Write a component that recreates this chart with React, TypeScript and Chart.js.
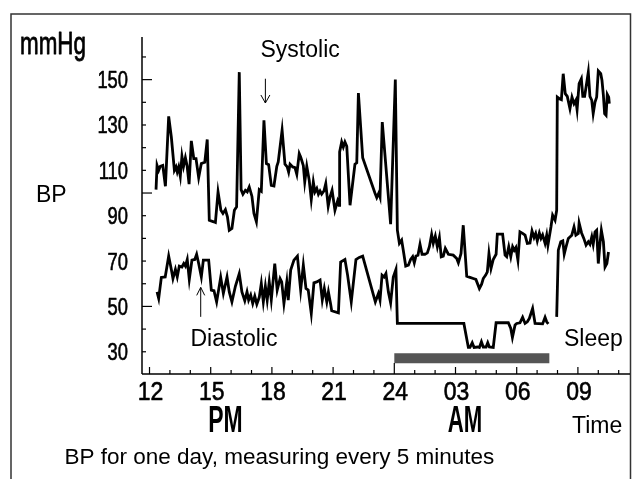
import React, { useEffect, useRef } from 'react';
import { Chart, registerables } from 'chart.js';

Chart.register(...registerables);

// ---- Data (time in hours since midnight of day 1; 24+ = next morning) ----
const sysTimes = [
  12.32, 12.37, 12.45, 12.53, 12.65, 12.78, 12.94, 13.07, 13.22, 13.30, 13.36, 13.43, 13.51, 13.59, 13.67, 13.76, 13.84, 13.94, 14.05, 14.17,
  14.28, 14.41, 14.54, 14.71, 14.83, 14.93, 15.15, 15.23, 15.36, 15.5, 15.6, 15.72, 15.82, 15.91, 16.04, 16.16, 16.27, 16.4, 16.49, 16.58,
  16.7, 16.79, 16.89, 17.02, 17.12, 17.24, 17.38, 17.48, 17.61, 17.73, 17.84, 17.97,
  18.1, 18.24, 18.31, 18.5, 18.64, 18.75, 18.82, 18.89, 19.02, 19.13, 19.22, 19.34, 19.41, 19.54, 19.61, 19.71, 19.83, 19.93, 20.03, 20.11,
  20.2, 20.28, 20.36, 20.44, 20.55, 20.64, 20.76, 20.85, 20.95, 21.09, 21.22, 21.29, 21.32, 21.42, 21.5, 21.58, 21.67, 21.83, 22.07, 22.16,
  22.24, 22.45, 23.05, 23.14, 23.24, 23.3, 23.41, 23.82, 24.05,
  24.15, 24.25, 24.36, 24.44, 24.56, 24.69, 24.8, 24.9, 24.98, 25.06, 25.16, 25.26, 25.36, 25.5, 25.62, 25.72, 25.83, 25.91, 26.01, 26.11,
  26.21, 26.3, 26.4, 26.5, 26.65, 26.89, 27.06, 27.14, 27.27, 27.38, 27.55, 27.71, 27.87, 28, 28.17, 28.28, 28.36, 28.48, 28.56, 28.64,
  28.74, 28.85, 28.99, 29.05, 29.31, 29.43, 29.51, 29.61, 29.71, 29.8, 29.88, 29.96, 30.06, 30.16, 30.29, 30.41, 30.52, 30.65, 30.75, 30.85,
  30.93, 31.01, 31.11, 31.19, 31.27, 31.39, 31.47, 31.53, 31.68, 31.76, 31.88, 31.96,
  31.99, 32.09, 32.19, 32.28, 32.38, 32.48, 32.61, 32.71, 32.81, 32.9, 32.96, 33.06, 33.17, 33.24, 33.33, 33.43, 33.51, 33.59, 33.68, 33.75,
  33.84, 33.92, 34, 34.12, 34.18, 34.25, 34.31, 34.38, 34.44, 34.51, 34.54,
];
const sysValues = [
  101.5, 112.2, 110, 111.8, 112.2, 103, 133.8, 124.7, 110, 111.5, 109.3, 111.5, 107.4, 116.2, 111.8, 115.6, 112.2, 103.9, 123, 115.2,
  115.2, 106.8, 113, 113.6, 123.6, 88, 87.3, 87, 100.5, 92.4, 91, 92.7, 89.5, 83.6, 84.4, 92.4, 93.9, 153.3, 101.5, 99.5,
  101.2, 100.5, 102.7, 98.6, 91, 87.3, 101.5, 100.8, 132.1, 113, 112.5, 103.4,
  103.1, 111.8, 113.7, 127.7, 112.7, 111.5, 109.2, 112.7, 111.5, 111.2, 108.3, 117.4, 115.9, 112.1, 104.9, 111.8, 105.6, 97.1, 104.9, 100.5,
  102, 99.5, 100.9, 99.5, 100.9, 104.2, 94.2, 98.3, 101.2, 92.4, 96.5, 94.6, 118.1, 122.5, 120.3, 122.5, 120.6, 94.6, 112.7, 113.3,
  144.1, 115.6, 100, 98, 100, 98.3, 131.3, 86.3, 150,
  83.6, 77.8, 79.2, 74.8, 67.8, 68.2, 70.7, 71.9, 69.2, 72.2, 72.6, 77.4, 73, 73, 73.6, 76.3, 81.7, 77.8, 81, 76.3,
  80.4, 71.9, 72.2, 75.6, 73, 72.6, 71.1, 69.2, 73.3, 85.8, 63.3, 62.8, 62.3, 61.9, 57.9, 59.8, 62.3, 63.8, 65.2, 73.3,
  66.7, 70.7, 73, 81.9, 81.9, 72.6, 71.9, 76.3, 71.9, 76.3, 74.8, 76, 70.4, 82.9, 82.2, 81.4, 77.8, 78, 83.3, 80.4,
  82.2, 78.9, 82.4, 80, 81.5, 77.8, 81.4, 77, 85.1, 90.2, 88, 92.4,
  142.3, 141.6, 141.2, 152.6, 143.8, 142.6, 137.2, 142.3, 139.4, 140.9, 136.8, 148.2, 150.4, 142.6, 142.6, 148.5, 153.3, 142.6, 140.9, 135,
  140.1, 142.3, 153.8, 152.6, 149.7, 143.1, 135, 134.3, 143.5, 142.3, 139.4,
];

const diaTimes = [
  12.37, 12.45, 12.58, 12.77, 12.94, 13.07, 13.15, 13.27, 13.36, 13.46, 13.59, 13.68, 13.76, 13.85, 13.95, 14.08, 14.22, 14.31, 14.41, 14.54,
  14.64, 14.9, 15.03, 15.16, 15.29, 15.49, 15.62, 15.8, 15.91, 16.04, 16.21, 16.4, 16.53, 16.67, 16.78, 16.86, 16.96, 17.06, 17.16, 17.26,
  17.38, 17.48, 17.58, 17.68, 17.77, 17.87, 17.97,
  18.14, 18.26, 18.4, 18.48, 18.59, 18.73, 18.8, 18.92, 19.08, 19.25, 19.41, 19.54, 19.67, 19.78, 19.93, 20.06, 20.2, 20.36, 20.47, 20.57,
  20.69, 20.77, 20.88, 20.93, 21.26, 21.37, 21.58, 21.71, 21.89, 22.12, 22.28, 22.45, 23.07, 23.22, 23.3, 23.4, 23.5, 23.59, 23.71, 23.82,
  23.95, 24.08,
  24.15, 27.41, 27.63, 27.71, 27.82, 27.91, 28.09, 28.17, 28.27, 28.36, 28.5, 28.58, 28.66, 28.85, 28.99, 29.59, 29.71, 29.79, 29.92, 30,
  30.16, 30.29, 30.41, 30.52, 30.62, 30.78, 30.9, 31.27, 31.39, 31.47, 31.55,
  31.75,
  31.96, 32.04, 32.16, 32.26, 32.33, 32.42, 32.53, 32.7, 32.81, 32.9, 33.02, 33.06, 33.18, 33.29, 33.4, 33.51, 33.59, 33.68, 33.75, 33.84,
  33.92, 34, 34.09, 34.15, 34.25, 34.33, 34.42, 34.5,
];
const diaValues: (number | null)[] = [
  56.4, 53.5, 62.8, 63, 72.2, 66.3, 62.3, 66.3, 63, 67.8, 67.4, 68.9, 67.8, 70.7, 61.9, 70.4, 70.7, 73, 68.9, 63,
  70.4, 70.4, 57.2, 56.9, 52, 62.8, 55.7, 63, 56.4, 52, 58.9, 64.5, 56.4, 52.5, 56.4, 52.8, 55, 51.3, 54.5, 51,
  54, 60.1, 52, 58.9, 52.8, 60.8, 53,
  68.9, 57.2, 62.3, 60.8, 51.3, 60.8, 52.8, 66, 70.4, 72.2, 57.2, 68.2, 57.9, 57.2, 46.9, 60.4, 60.8, 61.6, 52.8, 57.9,
  52, 56.4, 51, 48.1, 47.2, 69.6, 70.7, 63.8, 52, 70.7, 71.6, 72.2, 52, 55.7, 52.8, 63.8, 63, 64.5, 56.4, 51.6,
  63, 66.3,
  42.5, 42.5, 31.9, 31.9, 34, 31.9, 32.1, 31.9, 34.4, 32.1, 32.1, 34, 32.1, 31.9, 42.8, 42.8, 40.3, 36.3, 41.8, 42.5,
  42.8, 45.2, 42.5, 43.2, 44.7, 49.1, 42.5, 42.3, 45.2, 43.2, 42.3,
  null,
  45.4, 74.8, 78.5, 78.9, 73, 76.3, 80, 81.4, 85.1, 81.4, 82.2, 86.8, 82.4, 80, 77, 78.5, 77.4, 80.7, 77.4, 82.9,
  83.6, 68.9, 78.5, 83.6, 78.5, 67.4, 68.9, 74,
];

const sleepTimes = [24, 31.6];
const sleepLevels = [27.1, 27.1];

const xTickValues = [12, 15, 18, 21, 24, 27, 30, 33];
const xTickLabels = ['12', '15', '18', '21', '24', '03', '06', '09'];
const yTickValues = [150, 130, 110, 90, 70, 50, 30];
const yTickLabels = ['150', '130', '110', '90', '70', '50', '30'];

const FONT = '"Liberation Sans", Arial, "Noto Sans", sans-serif';

function drawText(
  ctx: CanvasRenderingContext2D,
  text: string,
  x: number,
  y: number,
  size: number,
  sx: number,
  align: CanvasTextAlign,
  weight = 'normal',
  thicken = 0,
) {
  ctx.save();
  ctx.font = `${weight} ${size}px ${FONT}`;
  ctx.textBaseline = 'alphabetic';
  ctx.textAlign = align;
  ctx.fillStyle = '#000';
  ctx.strokeStyle = '#000';
  ctx.translate(x, y);
  ctx.scale(sx, 1);
  ctx.fillText(text, 0, 0);
  if (thicken > 0) {
    ctx.lineWidth = thicken;
    ctx.lineJoin = 'round';
    ctx.strokeText(text, 0, 0);
  }
  ctx.restore();
}

function line(ctx: CanvasRenderingContext2D, x1: number, y1: number, x2: number, y2: number) {
  ctx.beginPath();
  ctx.moveTo(x1, y1);
  ctx.lineTo(x2, y2);
  ctx.stroke();
}

const decorPlugin = {
  id: 'decor',
  beforeDraw(chart: any) {
    const ctx = chart.ctx as CanvasRenderingContext2D;
    ctx.save();
    ctx.fillStyle = '#fff';
    ctx.fillRect(0, 0, chart.width, chart.height);
    ctx.restore();
  },
  afterDraw(chart: any) {
    const ctx = chart.ctx as CanvasRenderingContext2D;
    const xs = chart.scales.x;
    const ys = chart.scales.y;
    const a = chart.chartArea;
    ctx.save();

    // outer frame
    ctx.strokeStyle = '#333';
    ctx.lineWidth = 1.5;
    ctx.beginPath();
    ctx.moveTo(11, chart.height);
    ctx.lineTo(11, 14);
    ctx.lineTo(630.5, 14);
    ctx.lineTo(630.5, chart.height);
    ctx.stroke();

    // axes
    ctx.strokeStyle = '#000';
    ctx.lineWidth = 1.5;
    line(ctx, a.left, a.top, a.left, a.bottom);
    line(ctx, a.left, a.bottom, a.right, a.bottom);

    // inward ticks
    ctx.lineWidth = 1.2;
    for (let h = 12; h <= 35; h++) {
      const px = xs.getPixelForValue(h);
      const len = h === 24 ? 11 : h % 3 === 0 ? 7 : 4;
      line(ctx, px, a.bottom, px, a.bottom - len);
    }
    for (let v = 30; v <= 160; v += 10) {
      const py = ys.getPixelForValue(v);
      const len = v % 50 === 0 ? 10 : 4;
      line(ctx, a.left, py, a.left + len, py);
    }

    // tick labels
    yTickValues.forEach((v, i) => {
      drawText(ctx, yTickLabels[i], 128, ys.getPixelForValue(v) + 8.5, 23.5, 0.78, 'right', 'normal', 0.6);
    });
    xTickValues.forEach((v, i) => {
      drawText(ctx, xTickLabels[i], xs.getPixelForValue(v) + 1, 400, 25.5, 0.9, 'center', 'normal', 0.6);
    });

    // arrows
    ctx.lineWidth = 1;
    const sx = xs.getPixelForValue(17.68);
    const sTop = ys.getPixelForValue(150.4);
    const sBot = ys.getPixelForValue(139.7);
    line(ctx, sx, sTop, sx, sBot);
    ctx.beginPath();
    ctx.moveTo(sx - 4.5, sBot - 8);
    ctx.lineTo(sx, sBot);
    ctx.lineTo(sx + 4.5, sBot - 8);
    ctx.stroke();

    const dx = xs.getPixelForValue(14.51);
    const dTop = ys.getPixelForValue(58.4);
    const dBot = ys.getPixelForValue(45.4);
    line(ctx, dx, dTop, dx, dBot);
    ctx.beginPath();
    ctx.moveTo(dx - 4, dTop + 8);
    ctx.lineTo(dx, dTop);
    ctx.lineTo(dx + 4, dTop + 8);
    ctx.stroke();

    // texts
    drawText(ctx, 'mmHg', 20, 54, 32, 0.7, 'left', 'normal', 0.8);
    drawText(ctx, 'BP', 36, 202, 23, 1, 'left');
    drawText(ctx, 'Systolic', 260.5, 57, 23, 1, 'left');
    drawText(ctx, 'Diastolic', 190.5, 346, 23, 1, 'left');
    drawText(ctx, 'Sleep', 564, 346, 23, 1, 'left');
    drawText(ctx, 'PM', 225.5, 431.5, 37, 0.62, 'center', 'bold');
    drawText(ctx, 'AM', 465, 431.5, 37, 0.6, 'center', 'bold');
    drawText(ctx, 'Time', 572, 433, 23, 1, 'left');
    drawText(ctx, 'BP for one day, measuring every 5 minutes', 64.5, 464, 22.5, 1, 'left');

    ctx.restore();
  },
};

export default function App() {
  const ref = useRef<HTMLCanvasElement | null>(null);

  useEffect(() => {
    if (!ref.current) return;
    const sys = sysTimes.map((t, i) => ({ x: t, y: sysValues[i] }));
    const dia = diaTimes.map((t, i) => ({ x: t, y: diaValues[i] }));
    const sleep = sleepTimes.map((t, i) => ({ x: t, y: sleepLevels[i] }));

    const chart = new Chart(ref.current, {
      type: 'line',
      data: {
        datasets: [
          {
            label: 'Sleep',
            data: sleep,
            borderColor: '#555',
            borderWidth: 10,
            borderCapStyle: 'butt',
            pointRadius: 0,
          },
          {
            label: 'Systolic',
            data: sys,
            borderColor: '#000',
            borderWidth: 2.8,
            pointRadius: 0,
            tension: 0,
          },
          {
            label: 'Diastolic',
            data: dia,
            borderColor: '#000',
            borderWidth: 2.8,
            pointRadius: 0,
            tension: 0,
            spanGaps: false,
          },
        ],
      } as any,
      options: {
        animation: false,
        responsive: false,
        devicePixelRatio: 1,
        layout: { padding: { left: 142, right: 2, top: 37, bottom: 105 } },
        plugins: { legend: { display: false }, tooltip: { enabled: false } },
        scales: {
          x: { type: 'linear', min: 11.632, max: 35.554, display: false },
          y: { type: 'linear', min: 20.2, max: 168.8, display: false },
        },
        events: [],
      },
      plugins: [decorPlugin],
    });
    return () => chart.destroy();
  }, []);

  return (
    <div style={{ position: 'absolute', left: 0, top: 0, width: 632, height: 479 }}>
      <canvas ref={ref} width={632} height={479} style={{ width: 632, height: 479, display: 'block' }} />
    </div>
  );
}
